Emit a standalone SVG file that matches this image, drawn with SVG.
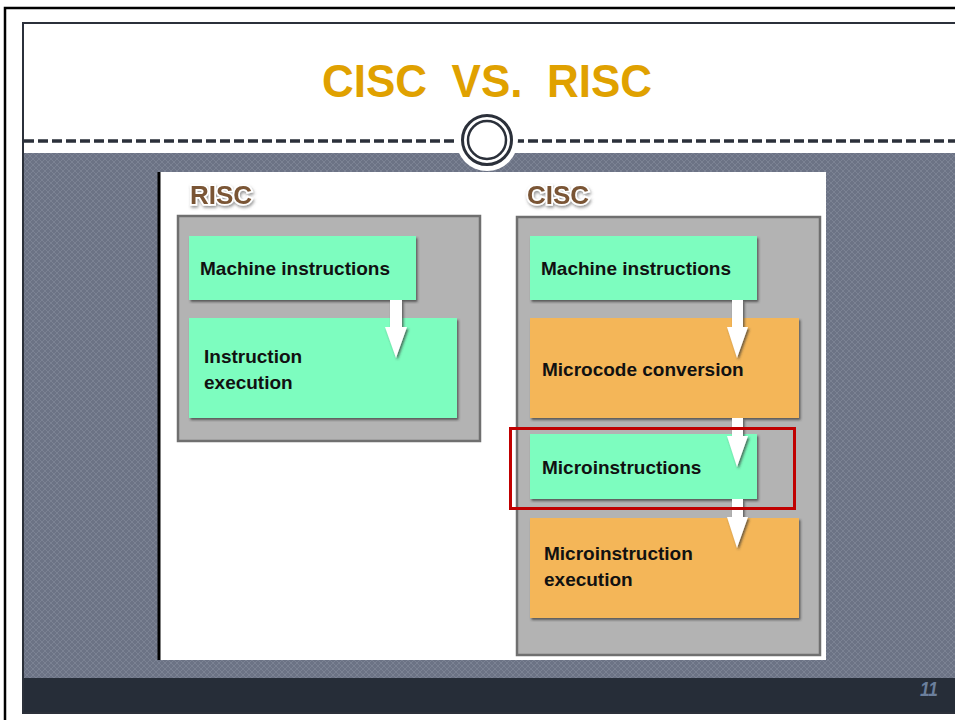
<svg xmlns="http://www.w3.org/2000/svg" width="955" height="720" viewBox="0 0 955 720">
  <defs>
    <style>
      .lbl { font-family: "Liberation Sans", Arial, sans-serif; font-weight: bold; font-size: 19px; fill: #111; }
      .head { font-family: "Liberation Sans", Arial, sans-serif; font-weight: bold; font-size: 26px; fill: #7a5535; stroke: #ffffff; stroke-width: 3.5px; paint-order: stroke; }
      .green { fill: #7dfdbf; }
      .orange { fill: #f4b658; }
      .group { fill: #b3b3b3; stroke: #6f6f6f; stroke-width: 2.5; }
      .arrow { fill: #ffffff; }
    </style>
    <pattern id="weave" width="6" height="6" patternUnits="userSpaceOnUse">
      <rect width="6" height="6" fill="#6c7385"/>
      <path d="M0 0 L6 6 M6 0 L0 6" stroke="#7b8293" stroke-width="1"/>
    </pattern>
    <filter id="shade" x="-5%" y="-5%" width="115%" height="120%">
      <feDropShadow dx="1.5" dy="2" stdDeviation="1" flood-color="#303030" flood-opacity="0.7"/>
    </filter>
    <filter id="glow" x="-10%" y="-20%" width="130%" height="160%">
      <feDropShadow dx="1" dy="2" stdDeviation="1.5" flood-color="#555" flood-opacity="0.6"/>
    </filter>
  </defs>

  <!-- page background and outer frame -->
  <rect width="955" height="720" fill="#ffffff"/>
  <path d="M5 720 V8 H955" fill="none" stroke="#000" stroke-width="2.5"/>

  <!-- slide -->
  <rect x="23" y="23" width="940" height="690" fill="#ffffff" stroke="#2b303a" stroke-width="2"/>
  <rect x="24" y="153" width="931" height="525" fill="url(#weave)"/>
  <rect x="24" y="678" width="931" height="34" fill="#262d38"/>
  <line x1="24" y1="141" x2="955" y2="141" stroke="#2b303a" stroke-width="3.5" stroke-dasharray="10 4"/>
  <circle cx="487" cy="140" r="31" fill="#ffffff"/>
  <circle cx="487" cy="140" r="24.5" fill="none" stroke="#2b303a" stroke-width="3"/>
  <circle cx="487" cy="140" r="19" fill="none" stroke="#2b303a" stroke-width="2.5"/>

  <text x="487" y="97" text-anchor="middle" font-family="Liberation Sans, Arial, sans-serif" font-weight="bold" font-size="47" fill="#e0a100" textLength="330" lengthAdjust="spacingAndGlyphs" xml:space="preserve">CISC  VS.  RISC</text>
  <text x="938" y="696" text-anchor="end" font-family="Liberation Sans, Arial, sans-serif" font-weight="bold" font-style="italic" font-size="21" fill="#6b7f9c" textLength="18" lengthAdjust="spacingAndGlyphs">11</text>

  <!-- figure panel -->
  <rect x="158" y="172" width="668" height="488" fill="#ffffff"/>
  <line x1="159" y1="172" x2="159" y2="660" stroke="#000" stroke-width="3"/>

  <!-- RISC column -->
  <g id="risc">
    <text class="head" x="190" y="204" filter="url(#glow)">RISC</text>
    <rect class="group" x="178" y="216" width="302" height="225"/>
  </g>
  <g id="risc-machine">
    <rect class="green" x="189" y="236" width="227" height="64" filter="url(#shade)"/>
    <text class="lbl" x="200" y="275">Machine instructions</text>
  </g>
  <g id="risc-exec">
    <rect class="green" x="189" y="318" width="268" height="100" filter="url(#shade)"/>
    <text class="lbl" x="204" y="363">Instruction</text>
    <text class="lbl" x="204" y="389">execution</text>
  </g>

  <!-- CISC column -->
  <g id="cisc">
    <text class="head" x="527" y="204" filter="url(#glow)">CISC</text>
    <rect class="group" x="517" y="217" width="303" height="438"/>
  </g>
  <g id="cisc-machine">
    <rect class="green" x="530" y="236" width="227" height="64" filter="url(#shade)"/>
    <text class="lbl" x="541" y="275">Machine instructions</text>
  </g>
  <g id="cisc-microcode">
    <rect class="orange" x="530" y="318" width="269" height="100" filter="url(#shade)"/>
    <text class="lbl" x="542" y="376">Microcode conversion</text>
  </g>
  <g id="cisc-microinstr">
    <rect class="green" x="530" y="434" width="227" height="65" filter="url(#shade)"/>
    <text class="lbl" x="542" y="474">Microinstructions</text>
  </g>
  <g id="cisc-exec">
    <rect class="orange" x="530" y="518" width="269" height="100" filter="url(#shade)"/>
    <text class="lbl" x="544" y="560">Microinstruction</text>
    <text class="lbl" x="544" y="586">execution</text>
  </g>

  <!-- connectors -->
  <g id="connectors" filter="url(#shade)">
    <path class="arrow" d="M390 300 H402 V327 H407 L396 358 L385 327 H390 Z"/>
    <path class="arrow" d="M732 300 H743 V327 H748 L737 358 L727 327 H732 Z"/>
    <path class="arrow" d="M732 418 H743 V436 H748 L737 467 L727 436 H732 Z"/>
    <path class="arrow" d="M732 499 H743 V517 H748 L737 548 L727 517 H732 Z"/>
  </g>

  <!-- highlight -->
  <rect id="highlight" x="510.5" y="428.5" width="284" height="80" fill="none" stroke="#c00000" stroke-width="3"/>
</svg>
